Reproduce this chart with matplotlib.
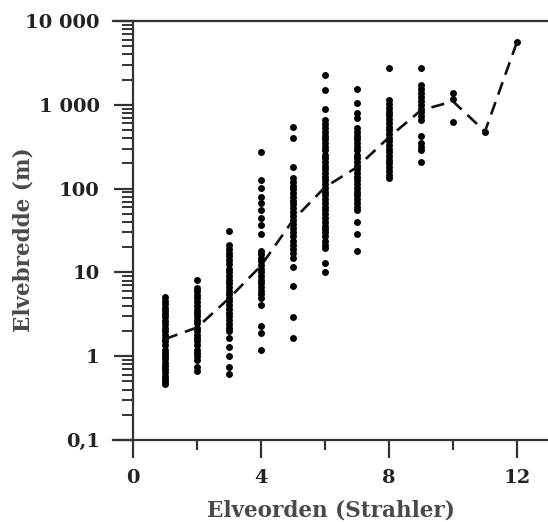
import numpy as np
import matplotlib.pyplot as plt
from matplotlib.ticker import FixedLocator, LogLocator, NullFormatter

# river width (m) by Strahler stream order
order = [1, 2, 3, 4, 5, 6, 7, 8, 9, 10, 11, 12]
widths = [
    [5.1, 4.6, 4.2, 3.8, 3.5, 3.2, 2.9, 2.6, 2.4, 2.2, 2.0, 1.8, 1.6, 1.5,
     1.35, 1.2, 1.1, 1.0, 0.92, 0.84, 0.76, 0.7, 0.64, 0.58, 0.53, 0.49, 0.46],
    [8.1, 6.6, 6.0, 5.4, 4.9, 4.4, 4.0, 3.6, 3.3, 3.0, 2.7, 2.5, 2.2, 2.0,
     1.8, 1.65, 1.5, 1.35, 1.2, 1.1, 1.0, 0.9, 0.75, 0.66],
    [31, 21, 19, 17, 15.5, 14, 12.5, 11, 10, 9, 8.2, 7.4, 6.7, 6.0, 5.5, 5.0,
     4.5, 4.1, 3.7, 3.3, 3.0, 2.7, 2.45, 2.2, 2.0, 1.65, 1.3, 1.0, 0.74, 0.62],
    [270, 126, 101, 79, 67, 55, 45, 37, 29, 18, 16.5, 15, 13.5, 12.2, 11, 10,
     9, 8.2, 7.4, 6.7, 6.0, 5.5, 5.0, 4.1, 2.3, 1.9, 1.2],
    [540, 400, 180, 133, 120, 108, 98, 88, 80, 72, 65, 58, 52, 47, 42, 38, 34,
     30, 27, 24, 21.5, 19, 17, 15, 11.5, 6.8, 2.9, 1.65],
    [2240, 1500, 900, 650, 590, 530, 480, 430, 390, 350, 315, 285, 255, 230,
     208, 188, 170, 153, 138, 125, 113, 102, 92, 83, 75, 68, 61, 55, 50, 45,
     40, 36, 33, 30, 27, 24, 21.5, 19.5, 12.8, 10],
    [1550, 1050, 800, 700, 530, 480, 430, 390, 350, 315, 285, 255, 230, 208,
     188, 170, 153, 138, 125, 113, 102, 92, 83, 75, 68, 61, 55, 40, 29, 18],
    [2750, 1130, 1020, 920, 830, 750, 680, 610, 550, 500, 450, 405, 365, 330,
     300, 270, 245, 220, 200, 180, 162, 146, 133],
    [2750, 1700, 1530, 1380, 1240, 1120, 1000, 900, 810, 730, 650, 430, 350,
     315, 285, 205],
    [1370, 1170, 620],
    [480],
    [5600],
]
median = [1.6, 2.2, 4.9, 12, 42, 104, 180, 410, 860, 1100, 480, 5600]

ytick_vals = [0.1, 1, 10, 100, 1000, 10000]
ytick_labels = ['0,1', '1', '10', '100', '1 000', '10 000']
xtick_vals = [0, 4, 8, 12]

plt.rcParams['font.family'] = 'DejaVu Serif'
plt.rcParams['font.weight'] = 'bold'

fig = plt.figure(figsize=(5.48, 5.22), dpi=100)
ax = fig.add_axes([113/548, 82/522, 435/548, 419/522])

for o, w in zip(order, widths):
    ax.plot([o]*len(w), w, 'o', color='black', ms=5.0, mew=0, zorder=3)
ax.plot(order, median, color='#111111', lw=1.9, ls=(0, (5, 3)), zorder=4)

ax.set_yscale('log')
ax.set_ylim(0.1, 10000)
ax.set_xlim(-0.625, 12.97)

spine_col = '#333333'
ax.spines['left'].set_position(('data', 0))
ax.spines['right'].set_visible(False)
for s in ['left', 'top', 'bottom']:
    ax.spines[s].set_color(spine_col)
    ax.spines[s].set_linewidth(1.6)

ax.yaxis.set_major_locator(FixedLocator(ytick_vals))
ax.set_yticklabels(ytick_labels)
ax.yaxis.set_minor_locator(LogLocator(base=10, subs=np.arange(2, 10)))
ax.yaxis.set_minor_formatter(NullFormatter())
ax.set_xticks(xtick_vals)
ax.set_xticks([2, 6, 10], minor=True)

ax.tick_params(axis='y', which='major', direction='out', length=14, width=1.6,
               color=spine_col, pad=10, labelsize=14, labelcolor='#222222')
ax.tick_params(axis='y', which='minor', direction='out', length=8, width=1.4,
               color=spine_col)
ax.tick_params(axis='x', which='major', direction='out', length=13, width=1.6,
               color=spine_col, pad=8, labelsize=14, labelcolor='#222222')
ax.tick_params(axis='x', which='minor', direction='out', length=7, width=1.6,
               color=spine_col)

ax.set_xlabel('Elveorden (Strahler)', fontsize=15.5, color='#4a4a4a',
              fontweight='bold', labelpad=9)
ax.set_ylabel('Elvebredde (m)', fontsize=15.5, color='#4a4a4a',
              fontweight='bold')
ax.yaxis.set_label_coords(-0.18, 0.477)

fig.savefig('out.png', dpi=100)
